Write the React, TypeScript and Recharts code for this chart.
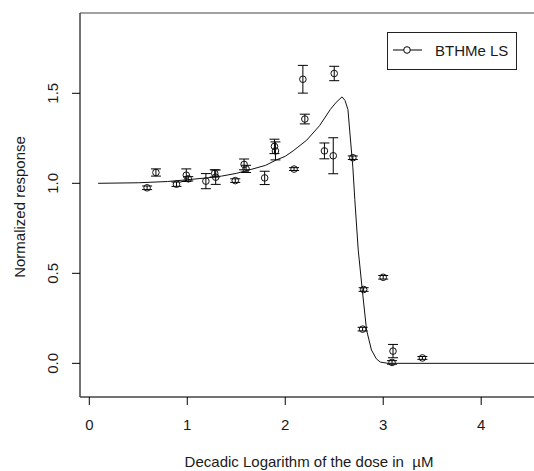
import {
  ComposedChart,
  ErrorBar,
  Label,
  Legend,
  Line,
  ReferenceArea,
  Scatter,
  XAxis,
  YAxis,
} from "recharts";

// measured responses (log10 dose, normalized response, half error bar)
const doseLog = [
  0.59, 0.68, 0.89, 0.99, 1.01, 1.19, 1.28, 1.29, 1.49, 1.58, 1.6, 1.79, 1.89,
  1.9, 2.09, 2.18, 2.2, 2.4, 2.49, 2.5, 2.69, 2.79, 2.8, 3.0, 3.09, 3.1, 3.4,
];
const response = [
  0.975, 1.06, 0.995, 1.045, 1.025, 1.012, 1.055, 1.034, 1.015, 1.105, 1.08,
  1.03, 1.205, 1.18, 1.079, 1.578, 1.357, 1.18, 1.153, 1.61, 1.142, 0.19, 0.41,
  0.478, 0.005, 0.068, 0.03,
];
const errHalf = [
  0.01, 0.02, 0.012, 0.035, 0.012, 0.042, 0.02, 0.04, 0.01, 0.03, 0.02, 0.037,
  0.04, 0.05, 0.008, 0.077, 0.027, 0.044, 0.1, 0.04, 0.01, 0.01, 0.01, 0.01,
  0.01, 0.037, 0.008,
];

// fitted dose-response curve
const curveX = [
  0.09, 0.5, 0.8, 1.0, 1.2, 1.35, 1.5, 1.67, 1.8, 1.91, 2.0, 2.08, 2.22, 2.35,
  2.46, 2.52, 2.58, 2.61, 2.64, 2.66, 2.69, 2.71, 2.745, 2.786, 2.83, 2.88,
  2.93, 2.97, 3.05, 4.6,
];
const curveY = [
  1.0, 1.003, 1.01, 1.02, 1.03, 1.04, 1.055, 1.08, 1.1, 1.13, 1.15, 1.18, 1.24,
  1.32, 1.41, 1.45, 1.48, 1.46, 1.41, 1.28, 1.09, 0.91, 0.63, 0.41, 0.185,
  0.074, 0.025, 0.007, 0.0, 0.0,
];

const xTicks = [0, 1, 2, 3, 4];
const yTicks = [0, 0.5, 1, 1.5];
const seriesName = "BTHMe LS";

const X_DOMAIN: [number, number] = [-0.095, 4.58];
const Y_DOMAIN: [number, number] = [-0.187, 1.946];

const FONT = '"Liberation Sans", Arial, sans-serif';
const INK = "#1a1a1a";

const points = doseLog.map((x, i) => ({ x, y: response[i], err: errHalf[i] }));
const curve = curveX.map((x, i) => ({ x, y: curveY[i] }));

function YTick({ x, y, payload }: any) {
  return (
    <text
      transform={`translate(${x - 14}, ${y}) rotate(-90)`}
      textAnchor="middle"
      fontSize={15}
      fontFamily={FONT}
      fill={INK}
    >
      {Number(payload.value).toFixed(1)}
    </text>
  );
}

function OpenCircle({ cx, cy }: any) {
  return <circle cx={cx} cy={cy} r={3.3} fill="none" stroke="#111" strokeWidth={1} />;
}

function LegendBox() {
  return (
    <div
      style={{
        width: 128,
        height: 36,
        border: "1px solid #222",
        background: "#fff",
        position: "relative",
        fontFamily: FONT,
        fontSize: 15,
        color: INK,
      }}
    >
      <svg width={40} height={36} style={{ position: "absolute", left: 0, top: 0 }}>
        <line x1={5} y1={17} x2={34} y2={17} stroke="#000" strokeWidth={1} />
        <circle cx={19} cy={17} r={3.3} fill="#fff" stroke="#000" strokeWidth={1} />
      </svg>
      <span style={{ position: "absolute", left: 47, top: 9, lineHeight: "17px" }}>
        {seriesName}
      </span>
    </div>
  );
}

export default function App() {
  return (
    <div
      style={{
        position: "fixed",
        left: 0,
        top: 0,
        width: 534,
        height: 471,
        overflow: "hidden",
        background: "#fff",
      }}
    >
      <ComposedChart
        width={560}
        height={471}
        margin={{ top: 13, right: 22, bottom: 0, left: 0 }}
      >
        <XAxis
          dataKey="x"
          type="number"
          domain={X_DOMAIN}
          allowDataOverflow
          ticks={xTicks}
          interval={0}
          height={74}
          tickSize={8}
          tickMargin={14}
          axisLine={{ stroke: "#444" }}
          tickLine={{ stroke: "#000" }}
          tick={{ fill: INK, fontSize: 15, fontFamily: FONT }}
        >
          <Label
            content={() => (
              <text
                x={309}
                y={467}
                textAnchor="middle"
                fontSize={15}
                fontFamily={FONT}
                fill={INK}
              >
                Decadic Logarithm of the dose in {"\u00a0"}µM
              </text>
            )}
          />
        </XAxis>
        <YAxis
          dataKey="y"
          type="number"
          domain={Y_DOMAIN}
          allowDataOverflow
          ticks={yTicks}
          interval={0}
          width={80}
          tickSize={8}
          tickMargin={0}
          axisLine={{ stroke: "#444" }}
          tickLine={{ stroke: "#000" }}
          tick={<YTick />}
        >
          <Label
            content={() => (
              <text
                transform="translate(25, 207) rotate(-90)"
                textAnchor="middle"
                fontSize={15}
                fontFamily={FONT}
                fill={INK}
              >
                Normalized response
              </text>
            )}
          />
        </YAxis>
        <ReferenceArea
          x1={X_DOMAIN[0]}
          x2={X_DOMAIN[1]}
          y1={Y_DOMAIN[0]}
          y2={Y_DOMAIN[1]}
          fill="none"
          stroke="#444"
          strokeWidth={1}
        />
        <Line
          data={curve}
          dataKey="y"
          type="linear"
          stroke="#111"
          strokeWidth={1}
          dot={false}
          activeDot={false}
          legendType="none"
          isAnimationActive={false}
        />
        <Scatter
          name={seriesName}
          data={points}
          dataKey="y"
          shape={<OpenCircle />}
          isAnimationActive={false}
        >
          <ErrorBar dataKey="err" direction="y" width={5} stroke="#000" strokeWidth={1} />
        </Scatter>
        <Legend
          layout="vertical"
          align="center"
          verticalAlign="middle"
          wrapperStyle={{ left: 387, top: 32, width: 130, height: 38 }}
          content={() => <LegendBox />}
        />
      </ComposedChart>
    </div>
  );
}
